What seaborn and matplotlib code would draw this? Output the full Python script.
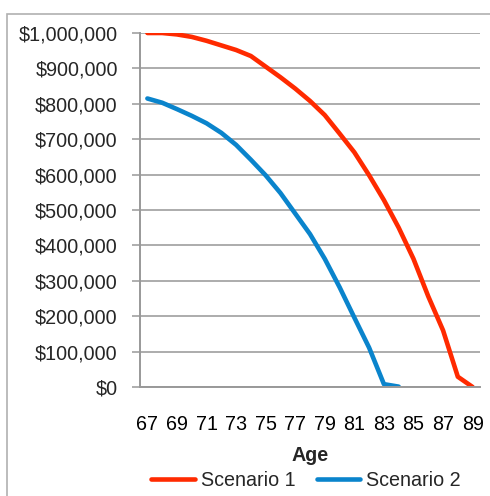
import numpy as np
import pandas as pd
import matplotlib.pyplot as plt
import matplotlib.ticker as mticker
from matplotlib.patches import Rectangle
import seaborn as sns

ages = list(range(67, 90))
scenario_1 = [1000000, 1000000, 996000, 989000, 978000, 965000, 952000, 935000,
              905000, 875000, 843000, 808000, 768000, 716000, 663000, 598000,
              528000, 450000, 362000, 256000, 160000, 29000, 0]
scenario_2 = [815000, 803000, 785000, 766000, 745000, 718000, 684000, 642000,
              598000, 548000, 490000, 432000, 362000, 282000, 196000, 111000,
              8000, 1000]
series_names = ['Scenario 1', 'Scenario 2']
tick_ages = list(range(67, 90, 2))

df = pd.concat([
    pd.DataFrame({'Age': ages[:len(scenario_1)], 'Value': scenario_1, 'Scenario': series_names[0]}),
    pd.DataFrame({'Age': ages[:len(scenario_2)], 'Value': scenario_2, 'Scenario': series_names[1]}),
])

sns.set_style('white')
plt.rcParams['font.family'] = ['Liberation Sans', 'DejaVu Sans']

fig = plt.figure(figsize=(4.9, 4.96), dpi=100)
ax = fig.add_axes([140 / 490, 109 / 496, 340 / 490, 354 / 496])

# border round the whole chart
fig.patches.append(Rectangle((7 / 490, -0.1), 1.2, (496 - 14) / 496 + 0.1,
                             transform=fig.transFigure, fill=False,
                             edgecolor='#b0b0b0', linewidth=1.2))

sns.lineplot(data=df, x='Age', y='Value', hue='Scenario',
             palette=['#FF2A00', '#0A84CC'], linewidth=3.3, ax=ax,
             legend=True)

fs = 14.2
ax.set_xlim(66.5, 89.5)
ax.set_ylim(0, 1000000)
ax.yaxis.set_major_locator(mticker.MultipleLocator(100000))
ax.yaxis.set_major_formatter(mticker.FuncFormatter(lambda v, p: '${:,.0f}'.format(v)))
ax.set_xticks(tick_ages)
ax.set_xticks(np.arange(66.5, 90, 1), minor=True)
ax.tick_params(axis='x', which='major', length=0, pad=20, labelsize=fs, colors='black')
ax.tick_params(axis='x', which='minor', length=6, width=1.1, color='#999999', direction='out')
ax.tick_params(axis='y', which='major', length=6, width=1.1, color='#999999',
               direction='out', labelsize=fs, pad=10, left=True)
ax.grid(axis='y', color='#a6a6a6', linewidth=1.3)
ax.set_axisbelow(True)
for s in ['top', 'right']:
    ax.spines[s].set_visible(False)
for s in ['left', 'bottom']:
    ax.spines[s].set_color('#999999')
    ax.spines[s].set_linewidth(1.4)

ax.set_xlabel('Age', fontsize=fs, fontweight='bold', labelpad=9)
ax.set_ylabel('')

handles, labels = ax.get_legend_handles_labels()
ax.legend(handles, labels, loc='center', bbox_to_anchor=(306 / 490, 16 / 496),
          bbox_transform=fig.transFigure, ncol=2, frameon=False,
          fontsize=fs, handlelength=2.2, columnspacing=1.1, handletextpad=0.3)

fig.savefig('out.png', dpi=100)
